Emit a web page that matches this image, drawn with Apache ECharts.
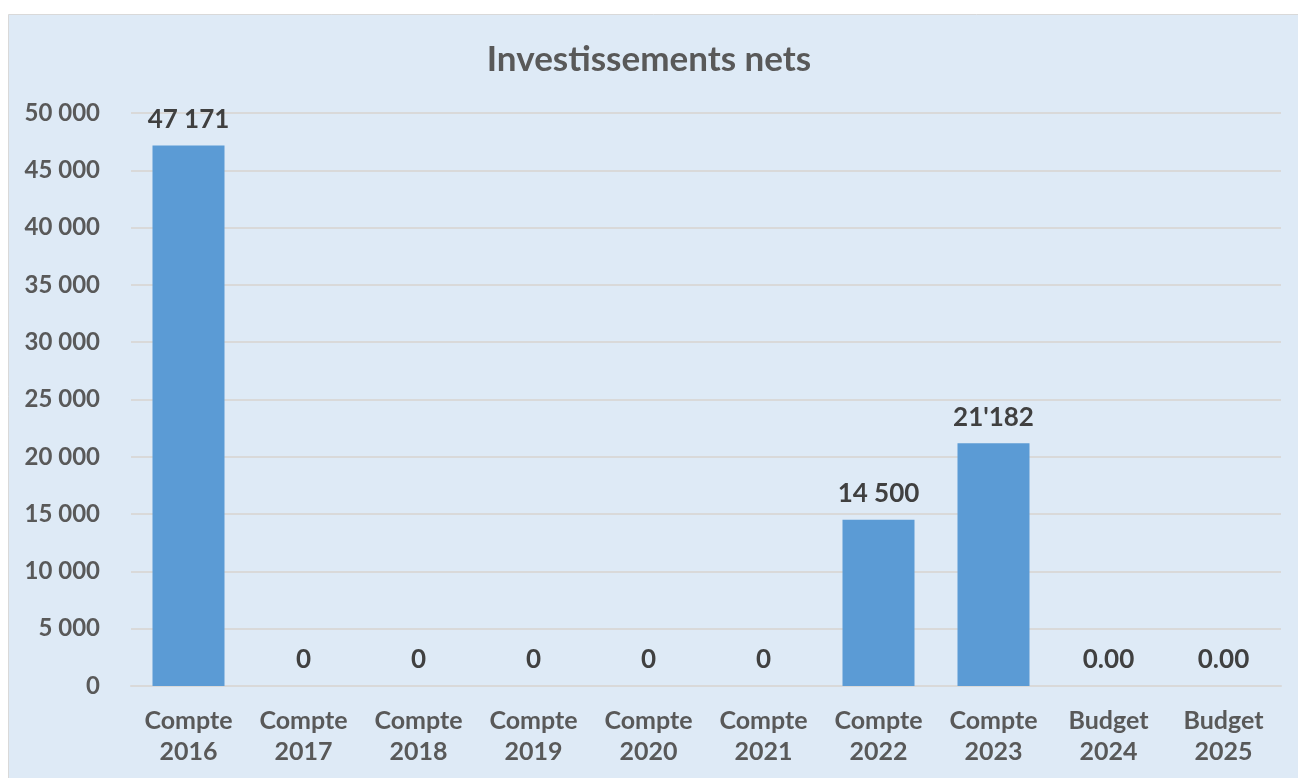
<!DOCTYPE html>
<html>
<head>
<meta charset="utf-8">
<script src="https://cdn.jsdelivr.net/npm/echarts@6/dist/echarts.min.js"></script>
<style>
html,body{margin:0;padding:0;background:#fff;}
#c{width:1298px;height:778px;}
</style>
</head>
<body>
<div id="c"></div>
<script>
const categories = ['Compte\n2016','Compte\n2017','Compte\n2018','Compte\n2019','Compte\n2020','Compte\n2021','Compte\n2022','Compte\n2023','Budget\n2024','Budget\n2025'];
const values = [47171, 0, 0, 0, 0, 0, 14500, 21182, 0, 0];
const valueLabels = ['47 171','0','0','0','0','0','14 500',"21'182",'0.00','0.00'];
const yMin = 0, yMax = 50000, yStep = 5000;

const chart = echarts.init(document.getElementById('c'), null, {renderer:'canvas'});
const font = 'Lato, "Noto Sans", sans-serif';
chart.setOption({
  backgroundColor: '#ffffff',
  graphic: [{
    type: 'rect', z: -10, silent: true,
    shape: {x: 8.5, y: 14.5, width: 1300, height: 800},
    style: {fill: '#DEEAF6', stroke: '#D9D9D9', lineWidth: 1}
  }],
  title: {
    text: 'Investissements nets',
    left: 'center', top: 37,
    textStyle: {fontFamily: font, fontWeight: 'bold', fontSize: 35, color: '#595959'}
  },
  grid: {left: 131, right: 17, top: 113, bottom: 92, containLabel: false},
  xAxis: {
    type: 'category',
    data: categories,
    axisTick: {show: false},
    axisLine: {lineStyle: {color: '#D9D9D9', width: 2}},
    axisLabel: {
      fontFamily: font, fontWeight: 'bold', fontSize: 25, color: '#595959',
      lineHeight: 31, margin: 19, interval: 0
    }
  },
  yAxis: {
    type: 'value',
    min: yMin, max: yMax, interval: yStep,
    axisLine: {show: false},
    axisTick: {show: false},
    splitLine: {lineStyle: {color: '#D9D9D9', width: 2}},
    axisLabel: {
      fontFamily: font, fontWeight: 'bold', fontSize: 24, color: '#595959', margin: 31,
      formatter: v => String(v).replace(/\B(?=(\d{3})+(?!\d))/g, ' ')
    }
  },
  series: [{
    type: 'bar',
    data: values,
    barWidth: '62.6%',
    itemStyle: {color: '#5B9BD5'},
    label: {
      show: true, position: 'top', distance: 13,
      fontFamily: font, fontWeight: 'bold', fontSize: 26, color: '#404040',
      formatter: p => valueLabels[p.dataIndex]
    }
  }],
  animation: false
});
</script>
</body>
</html>
